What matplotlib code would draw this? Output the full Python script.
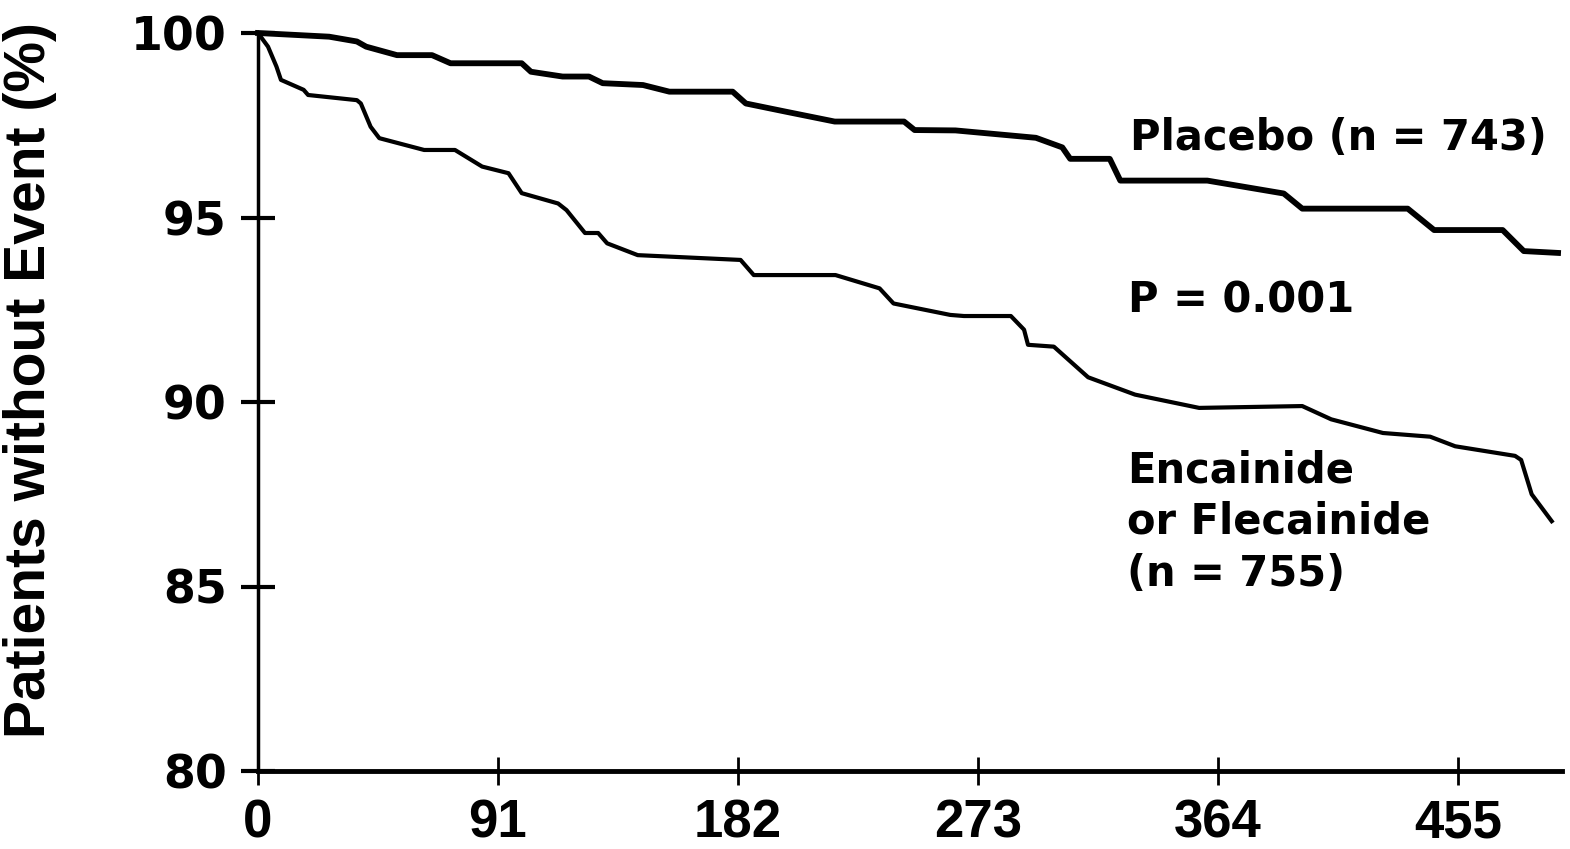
import matplotlib
matplotlib.use("Agg")
import matplotlib.pyplot as plt

# Placebo curve (days, % without event)
placebo_days = [0, 27, 37.5, 41, 52.7, 66, 73, 100, 103.5, 115.5, 125.5, 130.7, 146, 156,
                180, 185, 200, 218.7, 245, 249, 264.5, 295, 305, 308, 323, 327, 360, 389,
                396, 436, 446, 472, 480, 493]
placebo_vals = [100, 99.9, 99.77, 99.63, 99.4, 99.4, 99.18, 99.18, 98.95, 98.82, 98.82, 98.64,
                98.59, 98.41, 98.41, 98.09, 97.87, 97.6, 97.6, 97.37, 97.36, 97.16, 96.9, 96.59,
                96.59, 96.0, 96.0, 95.65, 95.24, 95.24, 94.66, 94.66, 94.09, 94.04]

# Encainide or Flecainide curve
drug_days = [0, 3.8, 7, 8.7, 17.3, 19, 37.5, 39, 42.7, 46, 63, 74.7, 85, 95, 100, 113.8, 117,
             124, 129, 132.4, 144, 183, 188, 219, 235.7, 241, 262.5, 267.7, 285.5, 290.5, 292,
             301.8, 314.8, 332.6, 356.9, 396, 407, 426.6, 444.5, 454, 476.7, 479, 483, 490.6]
drug_vals = [100, 99.63, 99.09, 98.73, 98.46, 98.32, 98.18, 98.09, 97.46, 97.15, 96.83, 96.83,
             96.38, 96.2, 95.66, 95.38, 95.2, 94.58, 94.58, 94.3, 93.98, 93.85, 93.44, 93.44,
             93.08, 92.67, 92.36, 92.33, 92.33, 91.96, 91.55, 91.5, 90.67, 90.2, 89.84, 89.89,
             89.53, 89.16, 89.06, 88.8, 88.54, 88.43, 87.5, 86.77]

x_ticks = [0, 91, 182, 273, 364, 455]
y_ticks = [80, 85, 90, 95, 100]

fig = plt.figure(figsize=(15.7, 8.49), dpi=100)
ax = fig.add_axes([258 / 1570, 1 - 771 / 849, (1562 - 258) / 1570, (771 - 33) / 849])

ax.plot(placebo_days, placebo_vals, color="black", lw=4.2, solid_joinstyle="round",
        clip_on=False)
ax.plot(drug_days, drug_vals, color="black", lw=3.0, solid_joinstyle="round", clip_on=False)

ax.set_xlim(0, 494.5)
ax.set_ylim(80, 100)
ax.spines["top"].set_visible(False)
ax.spines["right"].set_visible(False)
ax.spines["left"].set_linewidth(2.5)
ax.spines["bottom"].set_linewidth(3.5)

ax.set_yticks(y_ticks)
ax.set_yticklabels([str(v) for v in y_ticks], fontsize=33, fontweight="bold",
                   family="DejaVu Sans")
ax.set_xticks(x_ticks)
ax.set_xticklabels([str(v) for v in x_ticks], fontsize=38, fontweight="bold",
                   family="Liberation Sans")
ax.tick_params(axis="y", direction="inout", length=25, width=3, pad=10)
ax.tick_params(axis="x", direction="inout", length=20, width=2, pad=10)

fig.text(30 / 1570, 1 - 380 / 849, "Patients without Event (%)", rotation=90,
         ha="center", va="center", fontsize=41, fontweight="bold", family="Liberation Sans")

ax.text(330.5, 97.15, "Placebo (n = 743)", fontsize=30, fontweight="bold",
        family="DejaVu Sans", ha="left", va="center")
ax.text(330, 92.76, "P = 0.001", fontsize=30, fontweight="bold",
        family="DejaVu Sans", ha="left", va="center")
ax.text(329.5, 86.75, "Encainide\nor Flecainide\n(n = 755)", fontsize=30, fontweight="bold",
        family="DejaVu Sans", ha="left", va="center", linespacing=1.3)

fig.savefig("out.png", dpi=100)
